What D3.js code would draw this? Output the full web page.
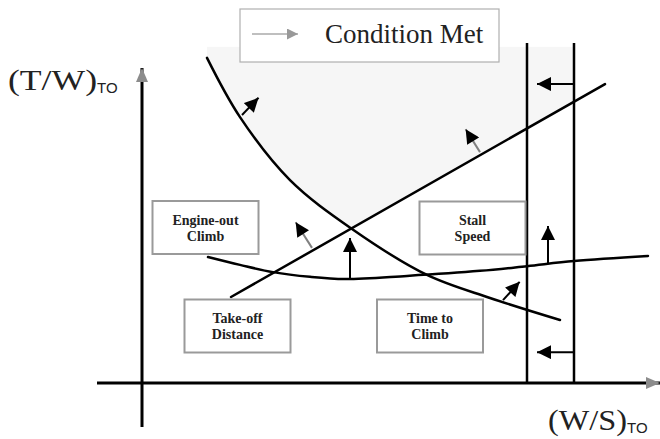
<html>
  <script src="https://d3js.org/d3.v7.min.js"></script>
  <body style="margin:0;background:#fff">
    <script>
      // constraint curves, in (W/S, T/W) units
      let takeOff = [[17.8, 27.3], [92.6, 94.9]];
      let climbTime = [[13, 103.2], [19.6, 84.4], [29.6, 64.4], [42, 48.9], [57, 34.3], [69.6, 27.0], [83.6, 20.0]];
      let engineOut = [[13.2, 40.0], [19.6, 37.5], [26.2, 35.2], [33.6, 33.7], [40.6, 33.0], [53, 34.0],
                       [67.6, 35.6], [77, 37.1], [86.4, 38.7], [101.2, 40.3]];
      let stallSpeed = [77, 86.4];
      let stallTop = 107.9;
      let shadeTop = 106.7;
      // "condition met" arrows: [x1, y1, x2, y2]
      let arrows = [[20, 85.1, 24, 91.7], [41.6, 32.7, 41.6, 47.6], [72.2, 26.3, 76.2, 33.3],
                    [81.2, 38.1, 81.2, 51.4], [86.4, 94.9, 78, 94.9], [86.4, 9.8, 78, 9.8]];
      let fadedArrows = [[67.6, 73.3, 64.2, 81.9], [34, 42.9, 30.2, 52.4]];
      let labels = [["Engine-out", "Climb"], ["Take-off", "Distance"], ["Time to", "Climb"], ["Stall", "Speed"]];

      let width = 660, height = 439;
      let serif = "'Liberation Serif', 'DejaVu Serif', serif";
      let svg = d3.select("body").append("svg")
                  .attr("width", width)
                  .attr("height", height)
                  .attr("font-family", serif);
      let x = d3.scaleLinear().domain([0, 100]).range([142, 642]);
      let y = d3.scaleLinear().domain([0, 100]).range([383, 68]);

      let defs = svg.append("defs");
      function head(id, color, w, h) {
        defs.append("marker")
            .attr("id", id)
            .attr("viewBox", "0 0 10 10")
            .attr("refX", 10).attr("refY", 5)
            .attr("markerWidth", w).attr("markerHeight", h)
            .attr("markerUnits", "userSpaceOnUse")
            .attr("orient", "auto")
          .append("path")
            .attr("d", "M0,0L10,5L0,10Z")
            .attr("fill", color);
      }
      head("blackHead", "#000", 15, 14);
      head("legendHead", "#999", 14, 11);

      let smooth = d3.line().x(d => x(d[0])).y(d => y(d[1])).curve(d3.curveCatmullRom);

      // shaded feasible region: above both curves, left of the stall limit
      defs.append("clipPath").attr("id", "aboveClimb")
          .append("path")
          .attr("d", smooth(climbTime) + `L${x(100)},${y(120)}L${x(13)},${y(120)}Z`);
      let tSlope = (takeOff[1][1] - takeOff[0][1]) / (takeOff[1][0] - takeOff[0][0]);
      let tAt = v => takeOff[0][1] + tSlope * (v - takeOff[0][0]);
      defs.append("clipPath").attr("id", "aboveTakeoff")
          .append("path")
          .attr("d", `M${x(0)},${y(tAt(0))}L${x(110)},${y(tAt(110))}L${x(110)},${y(130)}L${x(0)},${y(130)}Z`);
      svg.append("g").attr("clip-path", "url(#aboveClimb)")
         .append("g").attr("clip-path", "url(#aboveTakeoff)")
         .append("rect")
         .attr("x", x(climbTime[0][0]))
         .attr("y", y(shadeTop))
         .attr("width", x(stallSpeed[1]) - x(climbTime[0][0]))
         .attr("height", y(0) - y(shadeTop))
         .attr("fill", "#f6f6f6");

      // axes
      svg.append("line")
         .attr("x1", x(0)).attr("y1", y(-14))
         .attr("x2", x(0)).attr("y2", y(100))
         .attr("stroke", "#000").attr("stroke-width", 3);
      svg.append("path")
         .attr("d", `M${x(0)},${y(100)}l-6,14l12,0Z`)
         .attr("fill", "#8c8c8c");
      svg.append("line")
         .attr("x1", x(-9)).attr("y1", y(0))
         .attr("x2", x(103.6)).attr("y2", y(0))
         .attr("stroke", "#000").attr("stroke-width", 3);
      svg.append("path")
         .attr("d", `M${x(103.6)},${y(0)}l-14,-6l0,12Z`)
         .attr("fill", "#8c8c8c");

      // constraint lines
      stallSpeed.forEach(s =>
        svg.append("line")
           .attr("x1", x(s)).attr("y1", y(0))
           .attr("x2", x(s)).attr("y2", y(stallTop))
           .attr("stroke", "#000").attr("stroke-width", 2.5)
      );
      [takeOff, climbTime, engineOut].forEach(c =>
        svg.append("path")
           .attr("d", smooth(c))
           .attr("fill", "none")
           .attr("stroke", "#000")
           .attr("stroke-width", 2.5)
           .attr("stroke-linecap", "round")
      );

      // arrows
      function arrow(a, stem) {
        let x1 = x(a[0]), y1 = y(a[1]), x2 = x(a[2]), y2 = y(a[3]);
        let len = Math.hypot(x2 - x1, y2 - y1);
        let k = (len - 5) / len;
        svg.append("line")
           .attr("x1", x1).attr("y1", y1)
           .attr("x2", x1 + (x2 - x1) * k).attr("y2", y1 + (y2 - y1) * k)
           .attr("stroke", stem).attr("stroke-width", 2)
           .attr("marker-end", "url(#blackHead)");
      }
      arrows.forEach(a => arrow(a, "#000"));
      fadedArrows.forEach(a => arrow(a, "#808080"));

      // label boxes
      let boxSpots = [[205.5, 227.5], [237.5, 326], [430, 326], [472.5, 228]];
      labels.forEach((l, i) => {
        let [cx, cy] = boxSpots[i];
        svg.append("rect")
           .attr("x", cx - 53).attr("y", cy - 26.5)
           .attr("width", 106).attr("height", 53)
           .attr("fill", "#fff")
           .attr("stroke", "#9a9a9a").attr("stroke-width", 2);
        l.forEach((t, j) =>
          svg.append("text")
             .attr("x", cx).attr("y", cy - 3 + j * 16)
             .attr("text-anchor", "middle")
             .attr("font-family", serif)
             .attr("font-size", 14)
             .attr("font-weight", 700)
             .attr("fill", "#222")
             .text(t)
        );
      });

      // legend
      svg.append("rect")
         .attr("x", 240).attr("y", 9).attr("width", 259).attr("height", 53)
         .attr("fill", "#fff").attr("stroke", "#b0b0b0").attr("stroke-width", 1.2);
      svg.append("line")
         .attr("x1", 252).attr("y1", 34).attr("x2", 298).attr("y2", 34)
         .attr("stroke", "#aaa").attr("stroke-width", 1.5)
         .attr("marker-end", "url(#legendHead)");
      svg.append("text")
         .attr("x", 325).attr("y", 43)
         .attr("font-size", 27).attr("fill", "#222")
         .text("Condition Met");

      // axis titles
      function axisTitle(tx, ty, main, mainLen, subX) {
        svg.append("text").attr("x", tx).attr("y", ty)
           .attr("fill", "#222").attr("font-size", 29)
           .attr("textLength", mainLen).attr("lengthAdjust", "spacingAndGlyphs")
           .text(main);
        svg.append("text")
           .attr("x", subX).attr("y", ty + 3)
           .attr("font-family", "'Liberation Sans', Arial, sans-serif")
           .attr("font-size", 15).attr("fill", "#222")
           .text("TO");
      }
      axisTitle(8, 90, "(T/W)", 89, 97);
      axisTitle(548, 430, "(W/S)", 79, 627);
    </script>
  </body>
</html>
